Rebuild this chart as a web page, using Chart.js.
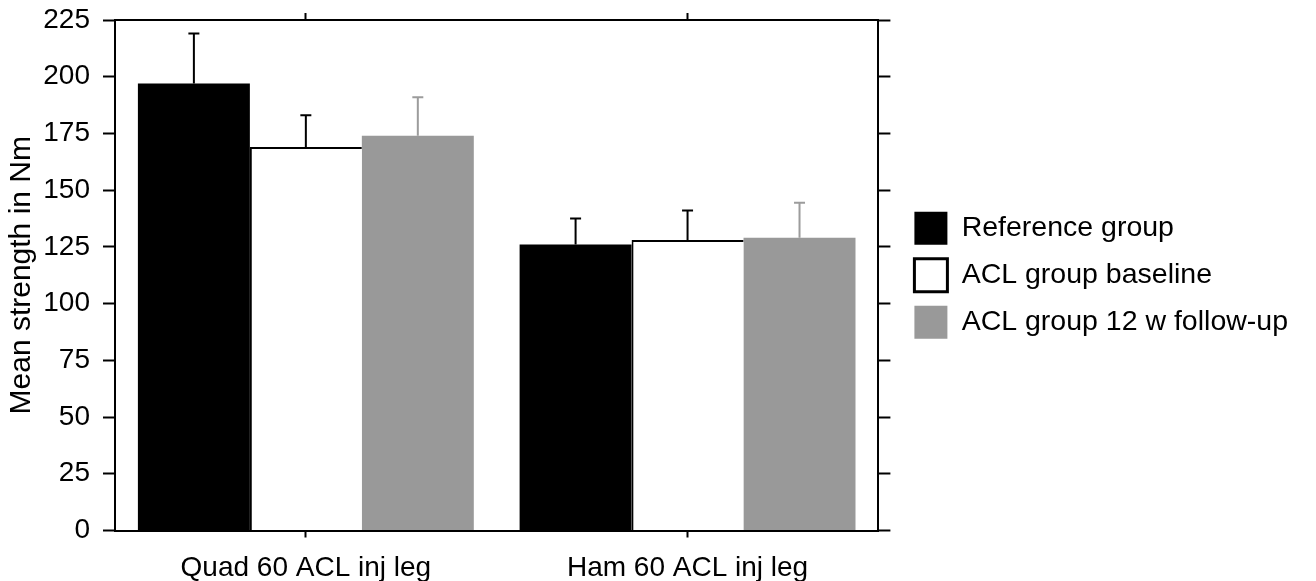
<!DOCTYPE html>
<html>
<head>
<meta charset="utf-8">
<script src="https://cdn.jsdelivr.net/npm/chart.js@4/dist/chart.umd.min.js"></script>
<style>
  body { margin:0; background:#fff; }
  #wrap { width:1316px; height:581px; }
</style>
</head>
<body>
<div id="wrap"><canvas id="strengthChart" width="1316" height="581"></canvas></div>
<script>
// =======================
// Data
// =======================
const categories = ["Quad 60 ACL inj leg", "Ham 60 ACL inj leg"];
const seriesNames = ["Reference group", "ACL group baseline", "ACL group 12 w follow-up"];

const referenceMean = [197, 126];
const referenceSD   = [22, 11.5];
const baselineMean  = [169, 128];
const baselineSD    = [14, 13];
const followupMean  = [174, 129];
const followupSD    = [17, 15.5];

const yTicks = { min: 0, max: 225, step: 25 };

// =======================
// Helpers
// =======================
Chart.defaults.font.family = "'Liberation Sans', Arial, sans-serif";
Chart.defaults.color = "#000";

const errorBars = {
  id: "errorBars",
  afterDatasetsDraw(chart) {
    const ctx = chart.ctx, y = chart.scales.y;
    chart.data.datasets.forEach((ds, di) => {
      chart.getDatasetMeta(di).data.forEach((bar, i) => {
        const top = y.getPixelForValue(ds.data[i] + ds.errors[i]);
        ctx.save();
        ctx.strokeStyle = ds.errorColor;
        ctx.lineWidth = 2;
        ctx.beginPath();
        ctx.moveTo(bar.x, bar.y);
        ctx.lineTo(bar.x, top);
        ctx.moveTo(bar.x - 5.5, top);
        ctx.lineTo(bar.x + 5.5, top);
        ctx.stroke();
        ctx.restore();
      });
    });
  }
};

const axisGrid = { drawOnChartArea: false, tickColor: "#000", tickWidth: 2, tickLength: 12 };
const axisBorder = { color: "#000", width: 2 };
// no extra room for half tick labels, the frame sets the plot edges
const noLabelPad = s => { s.paddingTop = 0; s.paddingBottom = 0; };

// =======================
// Chart
// =======================
new Chart(document.getElementById("strengthChart").getContext("2d"), {
  type: "bar",
  data: {
    labels: categories,
    datasets: [
      { label: seriesNames[0], data: referenceMean, errors: referenceSD, errorColor: "#000",
        backgroundColor: "#000", borderWidth: 0 },
      { label: seriesNames[1], data: baselineMean, errors: baselineSD, errorColor: "#000",
        backgroundColor: "#fff", borderColor: "#000", borderWidth: { top: 2, left: 2, right: 0, bottom: 0 } },
      { label: seriesNames[2], data: followupMean, errors: followupSD, errorColor: "#9c9c9c",
        backgroundColor: "#999999", borderWidth: 0 }
    ]
  },
  options: {
    responsive: false,
    animation: false,
    categoryPercentage: 0.88,
    barPercentage: 1.0,
    layout: { padding: { right: 18 } },
    plugins: {
      tooltip: { enabled: false },
      legend: {
        position: "right",
        fullSize: false,
        maxWidth: 420,
        labels: {
          boxWidth: 33, boxHeight: 33, padding: 14, color: "#000",
          font: { size: 28.5 },
          generateLabels(chart) {
            return chart.data.datasets.map((ds, i) => ({
              text: ds.label,
              fillStyle: ds.backgroundColor,
              strokeStyle: "#000",
              lineWidth: i === 1 ? 3 : 0,
              datasetIndex: i
            }));
          }
        }
      }
    },
    scales: {
      x: {
        grid: { ...axisGrid, offset: false, tickLength: 7 },
        border: axisBorder,
        ticks: { font: { size: 28 }, padding: 14, color: "#000" },
        afterFit(s) { s.height = 50.5; }
      },
      x2: {
        type: "category", position: "top", labels: categories, offset: true,
        grid: { ...axisGrid, offset: false, tickLength: 7 },
        border: axisBorder,
        ticks: { display: false },
        afterFit(s) { s.height = 20; }
      },
      y: {
        min: yTicks.min, max: yTicks.max,
        ticks: { stepSize: yTicks.step, font: { size: 28 }, padding: 13, color: "#000" },
        grid: axisGrid,
        border: axisBorder,
        title: { display: true, text: "Mean strength in Nm", font: { size: 30 }, color: "#000", padding: { top: 4, bottom: 0 } },
        afterFit(s) { s.width = 115; noLabelPad(s); }
      },
      y2: {
        position: "right",
        min: yTicks.min, max: yTicks.max,
        ticks: { display: false, stepSize: yTicks.step },
        grid: axisGrid,
        border: axisBorder,
        afterFit(s) { s.width = 22; noLabelPad(s); }
      }
    }
  },
  plugins: [errorBars]
});
</script>
</body>
</html>
